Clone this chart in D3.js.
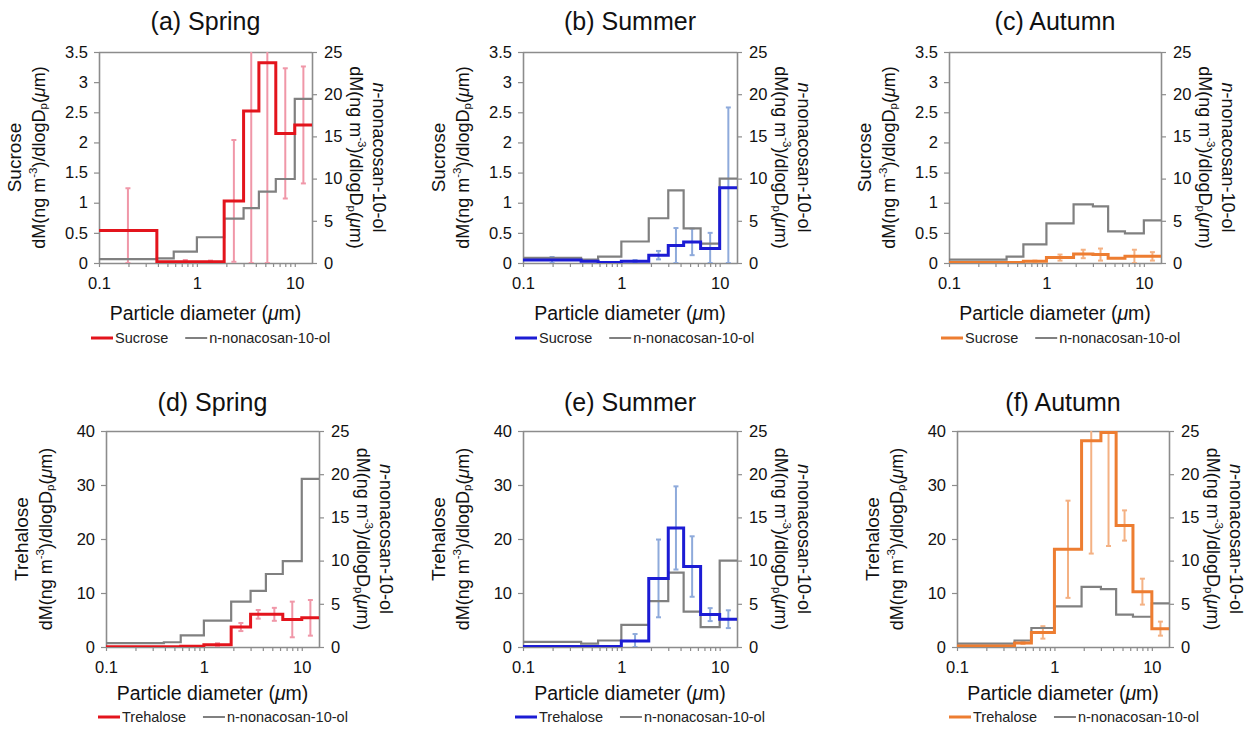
<!DOCTYPE html>
<html><head><meta charset="utf-8">
<script src="https://cdn.jsdelivr.net/npm/d3@7"></script>
<style>
html,body{margin:0;padding:0;background:#fff;}
svg{display:block;font-family:"Liberation Sans",Arial,sans-serif;}
</style></head>
<body>
<svg id="chart" width="1248" height="731"></svg>
<script>
// ---------- data ----------
const binEdges = [0.1, 0.39, 0.58, 1.0, 1.9, 3.0, 4.3, 6.4, 10, 15];
const xMajorTicks = [0.1, 1, 10];
const xMinorTicks = [0.2,0.3,0.4,0.5,0.6,0.7,0.8,0.9,2,3,4,5,6,7,8,9];
const sucroseTicks = [0, 0.5, 1, 1.5, 2, 2.5, 3, 3.5];
const trehaloseTicks = [0, 10, 20, 30, 40];
const nonacosanolTicks = [0, 5, 10, 15, 20, 25];

const sucroseSpring     = [0.54, 0.02, 0.02, 0.02, 1.03, 2.52, 3.32, 2.15, 2.29];
const sucroseSpringErr  = [0.70, 0, 0.03, 0.02, 1.01, 2.70, 3.40, 1.08, 0.97];
const sucroseSummer     = [0.05, 0.03, 0.01, 0.03, 0.13, 0.29, 0.35, 0.24, 1.25];
const sucroseSummerErr  = [0.05, 0, 0, 0.02, 0.07, 0.29, 0.22, 0.26, 1.33];
const sucroseAutumn     = [0.01, 0.01, 0.03, 0.09, 0.15, 0.14, 0.08, 0.11, 0.11];
const sucroseAutumnErr  = [0, 0, 0.01, 0.05, 0.07, 0.10, 0, 0.11, 0.07];

const trehaloseSpring    = [0.05, 0.05, 0.15, 0.4, 3.7, 6.05, 6.05, 5.1, 5.4];
const trehaloseSpringErr = [0, 0, 0, 0.3, 0.75, 0.8, 1.2, 3.3, 3.3];
const trehaloseSummer    = [0.1, 0.1, 0.1, 1.1, 12.7, 22.05, 14.9, 6.0, 5.15];
const trehaloseSummerErr = [0, 0, 0, 1.3, 7.2, 7.7, 5.6, 1.2, 1.65];
const trehaloseAutumn    = [0.2, 0.75, 2.7, 18.1, 38.2, 39.7, 22.5, 10.25, 3.4];
const trehaloseAutumnErr = [0, 0.2, 1.15, 9.0, 20.9, 21.0, 2.8, 2.4, 1.3];

const nonacosanolSpring = [0.45, 0.55, 1.35, 3.05, 5.25, 6.5, 8.45, 9.95, 19.45];
const nonacosanolSummer = [0.6, 0.4, 0.75, 2.55, 5.3, 8.6, 4.1, 2.3, 10.0];
const nonacosanolAutumn = [0.4, 0.75, 2.2, 4.7, 6.95, 6.7, 3.75, 3.5, 5.05];

// ---------- styles ----------
const RED = "#e3141c", RED_ERR = "#f097a8";
const BLUE = "#1c1cd4", BLUE_ERR = "#8eaadb";
const ORANGE = "#ed7d31", ORANGE_ERR = "#f4b183";
const GRAY = "#808080", AXIS = "#8c8c8c";

const panels = [
  {title:"(a) Spring", name:"Sucrose", v:sucroseSpring, e:sucroseSpringErr, g:nonacosanolSpring, c:RED, ce:RED_ERR, lt:sucroseTicks, lmax:3.5, x0:99, x1:312, y0:52, y1:263, row:0},
  {title:"(b) Summer", name:"Sucrose", v:sucroseSummer, e:sucroseSummerErr, g:nonacosanolSummer, c:BLUE, ce:BLUE_ERR, lt:sucroseTicks, lmax:3.5, x0:523, x1:737, y0:52, y1:263, row:0},
  {title:"(c) Autumn", name:"Sucrose", v:sucroseAutumn, e:sucroseAutumnErr, g:nonacosanolAutumn, c:ORANGE, ce:ORANGE_ERR, lt:sucroseTicks, lmax:3.5, x0:949, x1:1161, y0:52, y1:263, row:0},
  {title:"(d) Spring", name:"Trehalose", v:trehaloseSpring, e:trehaloseSpringErr, g:nonacosanolSpring, c:RED, ce:RED_ERR, lt:trehaloseTicks, lmax:40, x0:106, x1:319, y0:431, y1:647, row:1},
  {title:"(e) Summer", name:"Trehalose", v:trehaloseSummer, e:trehaloseSummerErr, g:nonacosanolSummer, c:BLUE, ce:BLUE_ERR, lt:trehaloseTicks, lmax:40, x0:523, x1:737, y0:431, y1:647, row:1},
  {title:"(f) Autumn", name:"Trehalose", v:trehaloseAutumn, e:trehaloseAutumnErr, g:nonacosanolAutumn, c:ORANGE, ce:ORANGE_ERR, lt:trehaloseTicks, lmax:40, x0:957, x1:1169, y0:431, y1:647, row:1}
];
const rowCfg = [
  {titleY:30, xlabY:320, legY:338},
  {titleY:411, xlabY:700, legY:717}
];

const svg = d3.select("#chart");

function stepPoints(vals){
  const pts = [];
  vals.forEach((v,i)=>{ pts.push([binEdges[i], v]); pts.push([binEdges[i+1], v]); });
  return pts;
}
function geoCenter(i){ return Math.sqrt(binEdges[i]*binEdges[i+1]); }

panels.forEach((p, pi) => {
  const rc = rowCfg[p.row];
  const x = d3.scaleLog().domain([binEdges[0], binEdges[binEdges.length-1]]).range([p.x0, p.x1]);
  const yL = d3.scaleLinear().domain([0, p.lmax]).range([p.y1, p.y0]);
  const yR = d3.scaleLinear().domain([0, 25]).range([p.y1, p.y0]);
  const g = svg.append("g");
  const cx = (p.x0 + p.x1) / 2, cy = (p.y0 + p.y1) / 2;

  const cid = "clip" + pi;
  svg.append("clipPath").attr("id", cid).append("rect")
    .attr("x", p.x0).attr("y", p.y0).attr("width", p.x1 - p.x0).attr("height", p.y1 - p.y0);

  // title
  g.append("text").attr("x", cx).attr("y", rc.titleY).attr("text-anchor","middle")
    .attr("font-size", 25).attr("fill","#111").text(p.title);

  // top border
  g.append("line").attr("x1", p.x0).attr("x2", p.x1).attr("y1", p.y0+0.5).attr("y2", p.y0+0.5)
    .attr("stroke", AXIS).attr("stroke-width", 1.5);

  // axes
  const fmt = d3.format("~g");
  const axL = g.append("g").attr("transform", `translate(${p.x0},0)`)
    .call(d3.axisLeft(yL).tickValues(p.lt).tickFormat(fmt).tickSize(5).tickSizeOuter(0).tickPadding(6));
  const axR = g.append("g").attr("transform", `translate(${p.x1},0)`)
    .call(d3.axisRight(yR).tickValues(nonacosanolTicks).tickFormat(fmt).tickSize(5).tickSizeOuter(0).tickPadding(7));
  const axB = g.append("g").attr("transform", `translate(0,${p.y1})`)
    .call(d3.axisBottom(x).tickValues(xMajorTicks.concat(xMinorTicks))
      .tickFormat(d => xMajorTicks.includes(d) ? fmt(d) : "").tickSize(4).tickSizeOuter(0).tickPadding(10));
  [axL, axR, axB].forEach(a => {
    a.selectAll("path.domain").attr("stroke", AXIS).attr("stroke-width", 1.6);
    a.selectAll(".tick line").attr("stroke", AXIS).attr("stroke-width", 1.2);
    a.selectAll(".tick text").attr("font-size", 16.5).attr("fill", "#111")
      .attr("font-family", '"Liberation Sans",Arial,sans-serif');
  });

  // error bars
  const eb = g.append("g").attr("clip-path", `url(#${cid})`);
  p.v.forEach((v, i) => {
    const e = p.e[i];
    if (!e) return;
    const xc = x(geoCenter(i));
    const lo = Math.max(0, v - e), hi = v + e;
    eb.append("line").attr("x1", xc).attr("x2", xc).attr("y1", yL(lo)).attr("y2", yL(hi))
      .attr("stroke", p.ce).attr("stroke-width", 2);
    [lo, hi].forEach(val => {
      eb.append("line").attr("x1", xc-2.5).attr("x2", xc+2.5).attr("y1", yL(val)).attr("y2", yL(val))
        .attr("stroke", p.ce).attr("stroke-width", 2);
    });
  });

  // gray step line (right axis)
  g.append("path").datum(stepPoints(p.g))
    .attr("d", d3.line().x(d => x(d[0])).y(d => yR(d[1])))
    .attr("fill","none").attr("stroke", GRAY).attr("stroke-width", 2.2);

  // colored step line (left axis)
  g.append("path").datum(stepPoints(p.v)).attr("clip-path", `url(#${cid})`)
    .attr("d", d3.line().x(d => x(d[0])).y(d => yL(d[1])))
    .attr("fill","none").attr("stroke", p.c).attr("stroke-width", 3);

  // left y label
  const fs = 18;
  g.append("text").attr("transform", `translate(${p.x0-85},${cy}) rotate(-90)`)
    .attr("text-anchor","middle").attr("dominant-baseline","central").attr("font-size", 19).attr("fill","#111").text(p.name);
  const dmLabel = (sel) => {
    sel.append("tspan").text("dM(ng m");
    sel.append("tspan").attr("dy", -6).attr("font-size", 11.5).text("-3");
    sel.append("tspan").attr("dy", 6).text(")/dlogD");
    sel.append("tspan").attr("dy", 4).attr("font-size", 11.5).text("p");
    sel.append("tspan").attr("dy", -4).text("(");
    sel.append("tspan").attr("font-style","italic").text("\u03bc");
    sel.append("tspan").text("m)");
  };
  g.append("text").attr("transform", `translate(${p.x0-60},${cy}) rotate(-90)`)
    .attr("text-anchor","middle").attr("dominant-baseline","central").attr("font-size", fs).attr("fill","#111").call(dmLabel);

  // right y label
  const rt = g.append("text").attr("transform", `translate(${p.x1+67},${cy}) rotate(90)`)
    .attr("text-anchor","middle").attr("dominant-baseline","central").attr("font-size", fs).attr("fill","#111");
  rt.append("tspan").attr("font-style","italic").text("n");
  rt.append("tspan").text("-nonacosan-10-ol");
  g.append("text").attr("transform", `translate(${p.x1+44},${cy}) rotate(90)`)
    .attr("text-anchor","middle").attr("dominant-baseline","central").attr("font-size", fs).attr("fill","#111").call(dmLabel);

  // x label
  const xl = g.append("text").attr("x", cx).attr("y", rc.xlabY).attr("text-anchor","middle")
    .attr("font-size", 19.5).attr("fill","#111");
  xl.append("tspan").text("Particle diameter (");
  xl.append("tspan").attr("font-style","italic").text("\u03bc");
  xl.append("tspan").text("m)");

  // legend
  const lg = g.append("g").attr("transform", `translate(${p.x0-8},${rc.legY})`);
  lg.append("line").attr("x1",0).attr("x2",22).attr("y1",0).attr("y2",0).attr("stroke",p.c).attr("stroke-width",3);
  const t1 = lg.append("text").attr("x",24).attr("y",0).attr("dominant-baseline","central")
    .attr("font-size",14.5).attr("fill","#222").text(p.name);
  const w1 = t1.node().getComputedTextLength();
  const gx = 24 + w1 + 17;
  lg.append("line").attr("x1",gx).attr("x2",gx+22).attr("y1",0).attr("y2",0).attr("stroke",GRAY).attr("stroke-width",2);
  lg.append("text").attr("x",gx+24).attr("y",0).attr("dominant-baseline","central")
    .attr("font-size",14.5).attr("fill","#222").text("n-nonacosan-10-ol");
});
</script>
</body></html>
